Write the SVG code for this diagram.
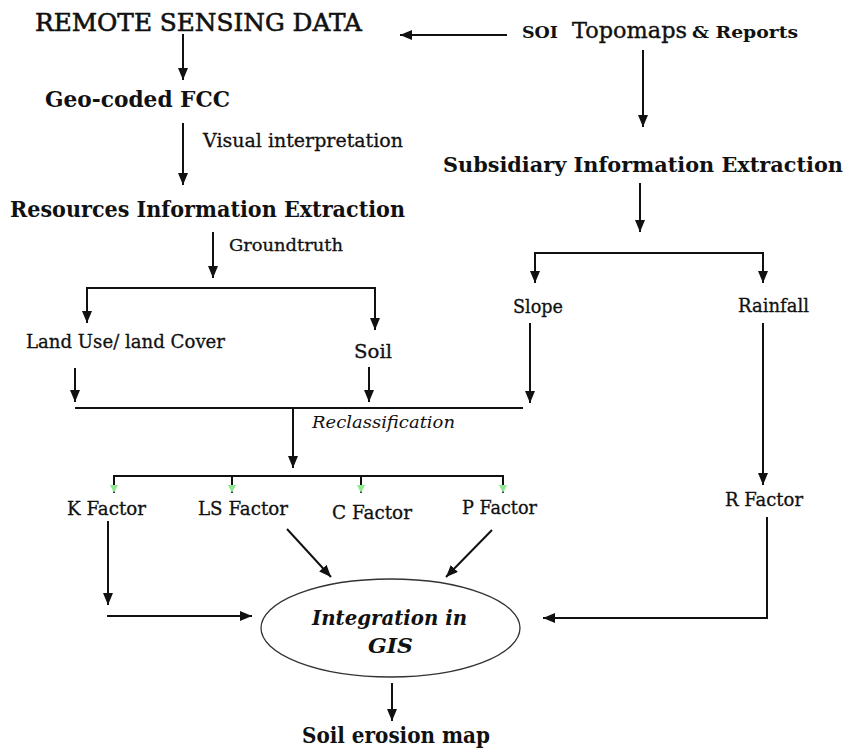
<svg xmlns="http://www.w3.org/2000/svg" width="856" height="750" viewBox="0 0 856 750">
<style>
text{font-family:"DejaVu Serif","Liberation Serif",serif;fill:#111}
.b{font-weight:bold}
.lab{font-size:18px;stroke:#111;stroke-width:0.3}
.big{font-size:22px}
.ln{stroke:#111;stroke-width:2;fill:none}
.ar{marker-end:url(#ah)}
.tk{marker-end:url(#gh)}
</style>
<defs>
<marker id="ah" markerUnits="userSpaceOnUse" viewBox="0 0 12 10" refX="12" refY="5" markerWidth="12" markerHeight="10" orient="auto"><path d="M0,0 L12,5 L0,10 z" fill="#111"/></marker>
<marker id="gh" markerUnits="userSpaceOnUse" viewBox="0 0 8 8" refX="8" refY="4" markerWidth="8" markerHeight="8" orient="auto"><path d="M0,0 L8,4 L0,8 z" fill="#8ee88e"/></marker>
</defs>
<rect width="856" height="750" fill="#fff"/>
<g id="connectors">
<line class="ln ar" x1="507" y1="35" x2="400" y2="35"/>
<line class="ln ar" x1="183" y1="34" x2="183" y2="80"/>
<line class="ln ar" x1="183" y1="123" x2="183" y2="185"/>
<line class="ln ar" x1="643" y1="50" x2="643" y2="127"/>
<line class="ln ar" x1="640" y1="183" x2="640" y2="232"/>
<polyline class="ln" points="535,283 535,253 763,253 763,283"/>
<line class="ln ar" x1="535" y1="260" x2="535" y2="283"/>
<line class="ln ar" x1="763" y1="260" x2="763" y2="283"/>
<line class="ln ar" x1="213" y1="232" x2="213" y2="278"/>
<polyline class="ln" points="87,295 87,288 375,288 375,295"/>
<line class="ln ar" x1="87" y1="292" x2="87" y2="323"/>
<line class="ln ar" x1="375" y1="292" x2="375" y2="330"/>
<line class="ln ar" x1="75" y1="368" x2="75" y2="402"/>
<line class="ln ar" x1="369" y1="367" x2="369" y2="402"/>
<line class="ln ar" x1="530" y1="323" x2="530" y2="403"/>
<line class="ln ar" x1="763" y1="323" x2="763" y2="485"/>
<line class="ln" x1="75" y1="408" x2="523" y2="408"/>
<line class="ln ar" x1="293" y1="408" x2="293" y2="468"/>
<line class="ln" x1="113" y1="476" x2="504" y2="476"/>
<line class="ln tk" x1="114" y1="475" x2="114" y2="493"/>
<line class="ln tk" x1="232" y1="475" x2="232" y2="493"/>
<line class="ln tk" x1="361" y1="475" x2="361" y2="493"/>
<line class="ln tk" x1="503" y1="475" x2="503" y2="493"/>
<line class="ln ar" x1="108" y1="521" x2="108" y2="605"/>
<line class="ln ar" x1="107" y1="616" x2="252" y2="616"/>
<line class="ln ar" x1="287" y1="529" x2="331" y2="577"/>
<line class="ln ar" x1="492" y1="530" x2="446" y2="577"/>
<polyline class="ln" points="767,517 767,618 555,618"/>
<line class="ln ar" x1="560" y1="618" x2="543" y2="618"/>
<line class="ln ar" x1="392" y1="683" x2="392" y2="721"/>
</g>
<g id="remote-sensing"><text x="35" y="31" font-size="24" stroke="#111" stroke-width="0.6" textLength="327" lengthAdjust="spacingAndGlyphs">REMOTE SENSING DATA</text></g>
<g id="soi">
<text x="522" y="38" class="b" font-size="16" textLength="36" lengthAdjust="spacingAndGlyphs">SOI</text>
<text x="572" y="38" font-size="23" stroke="#111" stroke-width="0.4" textLength="115" lengthAdjust="spacingAndGlyphs">Topomaps</text>
<text x="692" y="38" class="b" font-size="16" textLength="106" lengthAdjust="spacingAndGlyphs">&amp; Reports</text>
</g>
<g id="geo-fcc"><text x="45" y="107" class="b big" textLength="185" lengthAdjust="spacingAndGlyphs">Geo-coded FCC</text></g>
<g id="visual-label"><text x="203" y="147" font-size="19" stroke="#111" stroke-width="0.3" textLength="200" lengthAdjust="spacingAndGlyphs">Visual interpretation</text></g>
<g id="resources"><text x="10" y="217" class="b big" textLength="395" lengthAdjust="spacingAndGlyphs">Resources Information Extraction</text></g>
<g id="subsidiary"><text x="443" y="172" class="b" font-size="20" textLength="400" lengthAdjust="spacingAndGlyphs">Subsidiary Information Extraction</text></g>
<g id="groundtruth-label"><text x="229" y="251" font-size="17" stroke="#111" stroke-width="0.3" textLength="114" lengthAdjust="spacingAndGlyphs">Groundtruth</text></g>
<g id="landuse"><text x="26" y="348" class="lab" textLength="199" lengthAdjust="spacingAndGlyphs">Land Use/ land Cover</text></g>
<g id="soil"><text x="354" y="358" class="lab" textLength="38" lengthAdjust="spacingAndGlyphs">Soil</text></g>
<g id="slope"><text x="513" y="313" class="lab" textLength="50" lengthAdjust="spacingAndGlyphs">Slope</text></g>
<g id="rainfall"><text x="738" y="312" class="lab" textLength="71" lengthAdjust="spacingAndGlyphs">Rainfall</text></g>
<g id="reclass-label"><text x="312" y="428" font-size="17" font-style="italic" textLength="143" lengthAdjust="spacingAndGlyphs">Reclassification</text></g>
<g id="k-factor"><text x="67" y="515" class="lab" textLength="79" lengthAdjust="spacingAndGlyphs">K Factor</text></g>
<g id="ls-factor"><text x="198" y="515" class="lab" textLength="90" lengthAdjust="spacingAndGlyphs">LS Factor</text></g>
<g id="c-factor"><text x="332" y="519" class="lab" textLength="80" lengthAdjust="spacingAndGlyphs">C Factor</text></g>
<g id="p-factor"><text x="462" y="514" class="lab" textLength="75" lengthAdjust="spacingAndGlyphs">P Factor</text></g>
<g id="r-factor"><text x="725" y="506" class="lab" textLength="78" lengthAdjust="spacingAndGlyphs">R Factor</text></g>
<g id="integration">
<ellipse cx="390.5" cy="628" rx="129.5" ry="49" fill="none" stroke="#333" stroke-width="1.3"/>
<text x="312" y="625" class="b" font-size="21" font-style="italic" textLength="155" lengthAdjust="spacingAndGlyphs">Integration in</text>
<text x="368" y="653" class="b" font-size="21" font-style="italic" textLength="45" lengthAdjust="spacingAndGlyphs">GIS</text>
</g>
<g id="soil-erosion"><text x="302" y="743" class="b big" textLength="188" lengthAdjust="spacingAndGlyphs">Soil erosion map</text></g>
</svg>
